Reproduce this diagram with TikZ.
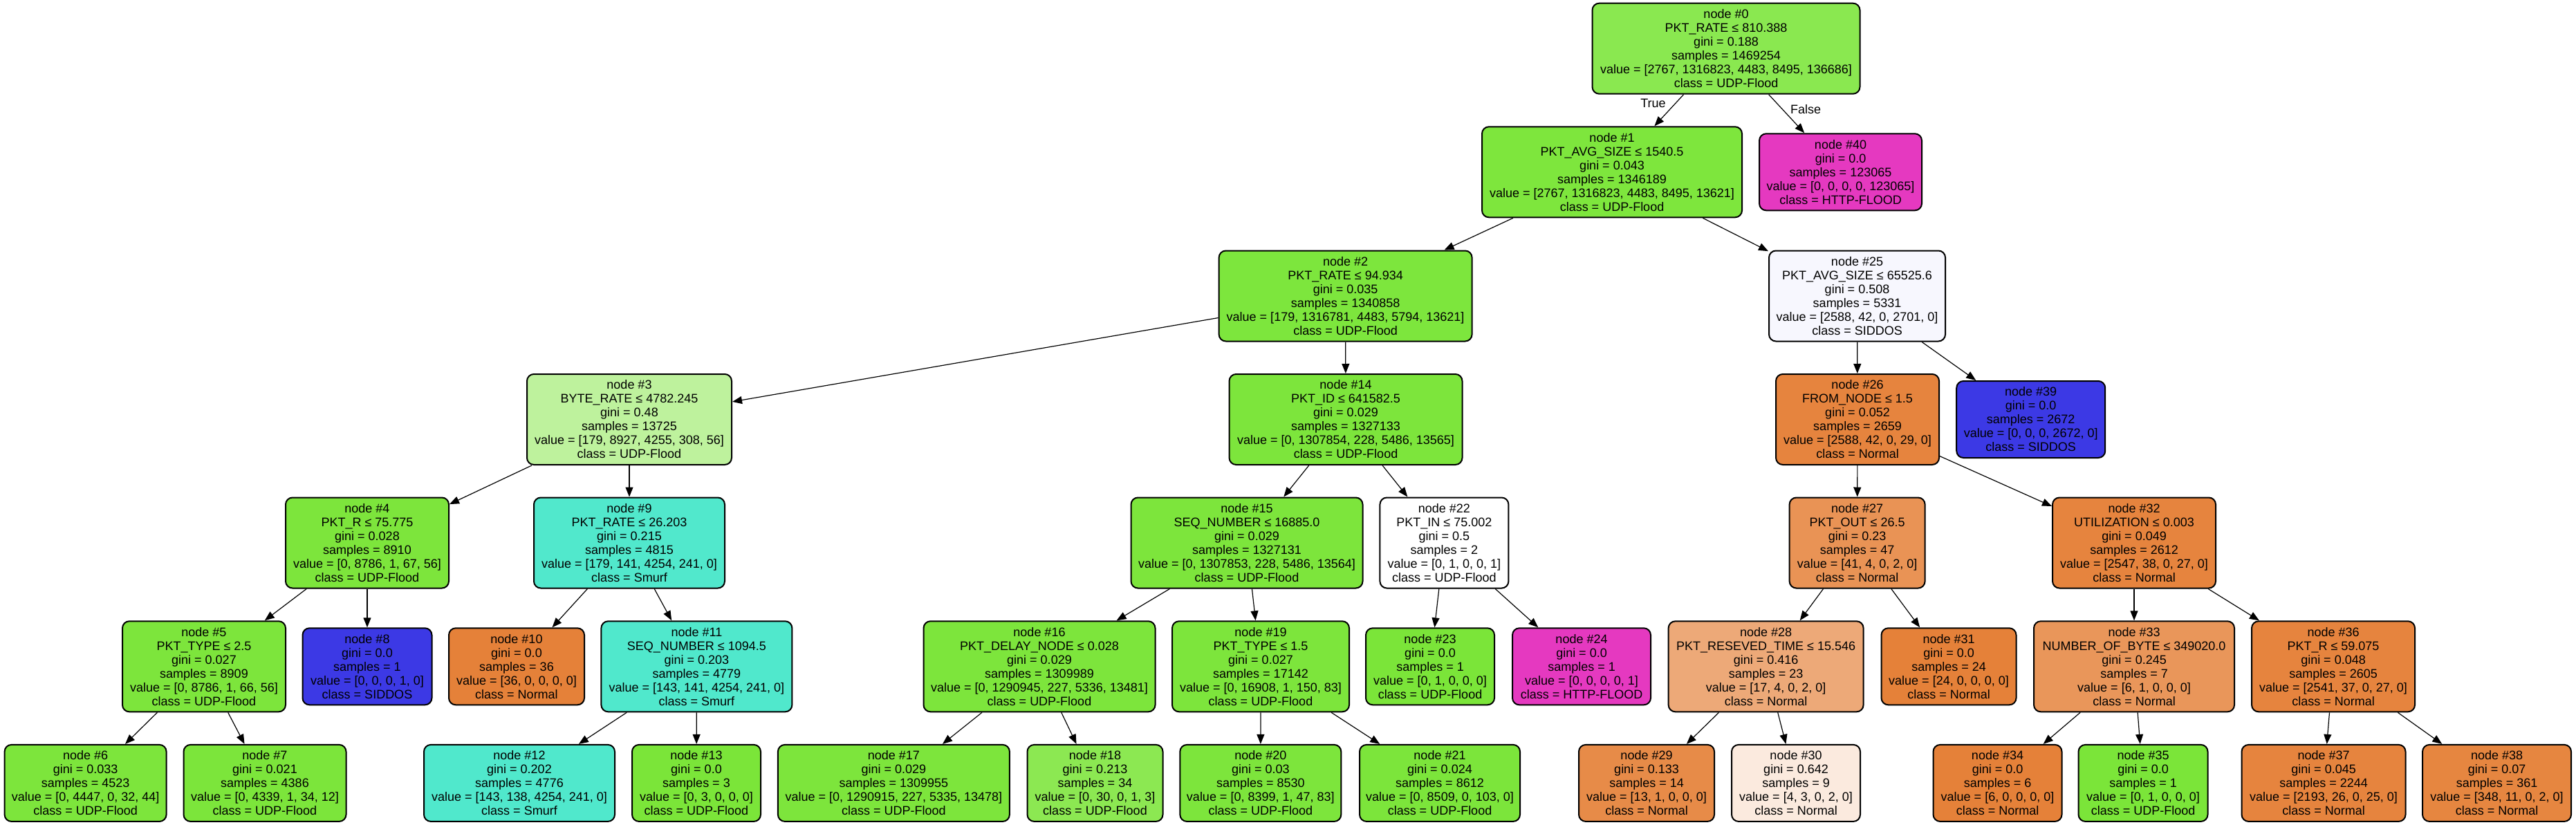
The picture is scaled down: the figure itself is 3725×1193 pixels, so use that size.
\documentclass[tikz,border=0pt]{standalone}
\usepackage{fontspec}
\setmainfont{Liberation Sans}
\usetikzlibrary{arrows.meta}
\definecolor{cA}{HTML}{8AE850}
\definecolor{cB}{HTML}{7EE63D}
\definecolor{cC}{HTML}{7DE63D}
\definecolor{cD}{HTML}{BEF29D}
\definecolor{gU}{HTML}{7DE53C}
\definecolor{gV}{HTML}{7CE53B}
\definecolor{gP}{HTML}{7BE539}
\definecolor{gL}{HTML}{8CE852}
\definecolor{bS}{HTML}{3C39E5}
\definecolor{sA}{HTML}{51E8CC}
\definecolor{sB}{HTML}{50E8CC}
\definecolor{oP}{HTML}{E58139}
\definecolor{oA}{HTML}{E6843E}
\definecolor{oB}{HTML}{E99355}
\definecolor{oC}{HTML}{EDA978}
\definecolor{oD}{HTML}{E78B48}
\definecolor{oE}{HTML}{FBEADE}
\definecolor{oF}{HTML}{E9965A}
\definecolor{oG}{HTML}{E68640}
\definecolor{mH}{HTML}{E539C0}
\definecolor{wS}{HTML}{F7F7FE}
\tikzset{
  tn/.style={draw=black, line width=1pt, rounded corners=5pt, align=center,
    font=\fontsize{9}{10}\selectfont, inner sep=0pt, minimum height=65.5pt},
  lf/.style={tn, minimum height=55.5pt},
  edge/.style={-{Triangle[length=7pt,width=5.5pt]}, line width=0.6pt, draw=black},
  elab/.style={font=\fontsize{9}{10}\selectfont, inner sep=0pt},
}
\begin{document}
\begin{tikzpicture}[x=0.5pt,y=-0.5pt]
\useasboundingbox (0,0) rectangle (3725,1193);
% level 0
\node[tn, fill=cA, minimum width=193.5pt] (n0) at (2496,70.2) {node \#0\\PKT\_RATE ≤ 810.388\\gini = 0.188\\samples = 1469254\\value = [2767, 1316823, 4483, 8495, 136686]\\class = UDP-Flood};
% level 1
\node[tn, fill=cB, minimum width=188pt] (n1) at (2331,248.8) {node \#1\\PKT\_AVG\_SIZE ≤ 1540.5\\gini = 0.043\\samples = 1346189\\value = [2767, 1316823, 4483, 8495, 13621]\\class = UDP-Flood};
\node[lf, fill=mH, minimum width=117.5pt] (n40) at (2661.5,248.8) {node \#40\\gini = 0.0\\samples = 123065\\value = [0, 0, 0, 0, 123065]\\class = HTTP-FLOOD};
% level 2
\node[tn, fill=cC, minimum width=183pt] (n2) at (1945.6,428) {node \#2\\PKT\_RATE ≤ 94.934\\gini = 0.035\\samples = 1340858\\value = [179, 1316781, 4483, 5794, 13621]\\class = UDP-Flood};
\node[tn, fill=wS, minimum width=127.5pt] (n25) at (2685.5,428) {node \#25\\PKT\_AVG\_SIZE ≤ 65525.6\\gini = 0.508\\samples = 5331\\value = [2588, 42, 0, 2701, 0]\\class = SIDDOS};
% level 3
\node[tn, fill=cD, minimum width=148pt] (n3) at (910,606.5) {node \#3\\BYTE\_RATE ≤ 4782.245\\gini = 0.48\\samples = 13725\\value = [179, 8927, 4255, 308, 56]\\class = UDP-Flood};
\node[tn, fill=gU, minimum width=168.5pt] (n14) at (1946,606.5) {node \#14\\PKT\_ID ≤ 641582.5\\gini = 0.029\\samples = 1327133\\value = [0, 1307854, 228, 5486, 13565]\\class = UDP-Flood};
\node[tn, fill=oA, minimum width=118pt] (n26) at (2686,606.5) {node \#26\\FROM\_NODE ≤ 1.5\\gini = 0.052\\samples = 2659\\value = [2588, 42, 0, 29, 0]\\class = Normal};
\node[lf, fill=bS, minimum width=107.5pt] (n39) at (2936.7,606.5) {node \#39\\gini = 0.0\\samples = 2672\\value = [0, 0, 0, 2672, 0]\\class = SIDDOS};
% level 4
\node[tn, fill=gU, minimum width=118pt] (n4) at (531,785) {node \#4\\PKT\_R ≤ 75.775\\gini = 0.028\\samples = 8910\\value = [0, 8786, 1, 67, 56]\\class = UDP-Flood};
\node[tn, fill=sA, minimum width=138pt] (n9) at (910,785) {node \#9\\PKT\_RATE ≤ 26.203\\gini = 0.215\\samples = 4815\\value = [179, 141, 4254, 241, 0]\\class = Smurf};
\node[tn, fill=gU, minimum width=167.5pt] (n15) at (1803,785) {node \#15\\SEQ\_NUMBER ≤ 16885.0\\gini = 0.029\\samples = 1327131\\value = [0, 1307853, 228, 5486, 13564]\\class = UDP-Flood};
\node[tn, fill=white, minimum width=93pt] (n22) at (2088.4,785) {node \#22\\PKT\_IN ≤ 75.002\\gini = 0.5\\samples = 2\\value = [0, 1, 0, 0, 1]\\class = UDP-Flood};
\node[tn, fill=oB, minimum width=98pt] (n27) at (2685.6,785) {node \#27\\PKT\_OUT ≤ 26.5\\gini = 0.23\\samples = 47\\value = [41, 4, 0, 2, 0]\\class = Normal};
\node[tn, fill=oA, minimum width=118pt] (n32) at (3086,785) {node \#32\\UTILIZATION ≤ 0.003\\gini = 0.049\\samples = 2612\\value = [2547, 38, 0, 27, 0]\\class = Normal};
% level 5
\node[tn, fill=gU, minimum width=118pt] (n5) at (295,963.8) {node \#5\\PKT\_TYPE ≤ 2.5\\gini = 0.027\\samples = 8909\\value = [0, 8786, 1, 66, 56]\\class = UDP-Flood};
\node[lf, fill=bS, minimum width=93.5pt] (n8) at (531,963.8) {node \#8\\gini = 0.0\\samples = 1\\value = [0, 0, 0, 1, 0]\\class = SIDDOS};
\node[lf, fill=oP, minimum width=98pt] (n10) at (747,963.8) {node \#10\\gini = 0.0\\samples = 36\\value = [36, 0, 0, 0, 0]\\class = Normal};
\node[tn, fill=sB, minimum width=138pt] (n11) at (1007.4,963.8) {node \#11\\SEQ\_NUMBER ≤ 1094.5\\gini = 0.203\\samples = 4779\\value = [143, 141, 4254, 241, 0]\\class = Smurf};
\node[tn, fill=gU, minimum width=167.5pt] (n16) at (1503,963.8) {node \#16\\PKT\_DELAY\_NODE ≤ 0.028\\gini = 0.029\\samples = 1309989\\value = [0, 1290945, 227, 5336, 13481]\\class = UDP-Flood};
\node[tn, fill=gU, minimum width=128pt] (n19) at (1823,963.8) {node \#19\\PKT\_TYPE ≤ 1.5\\gini = 0.027\\samples = 17142\\value = [0, 16908, 1, 150, 83]\\class = UDP-Flood};
\node[lf, fill=gP, minimum width=93pt] (n23) at (2068,963.8) {node \#23\\gini = 0.0\\samples = 1\\value = [0, 1, 0, 0, 0]\\class = UDP-Flood};
\node[lf, fill=mH, minimum width=100pt] (n24) at (2287,963.8) {node \#24\\gini = 0.0\\samples = 1\\value = [0, 0, 0, 0, 1]\\class = HTTP-FLOOD};
\node[tn, fill=oC, minimum width=141pt] (n28) at (2553.6,963.8) {node \#28\\PKT\_RESEVED\_TIME ≤ 15.546\\gini = 0.416\\samples = 23\\value = [17, 4, 0, 2, 0]\\class = Normal};
\node[lf, fill=oP, minimum width=97.5pt] (n31) at (2818,963.8) {node \#31\\gini = 0.0\\samples = 24\\value = [24, 0, 0, 0, 0]\\class = Normal};
\node[tn, fill=oF, minimum width=145pt] (n33) at (3086,963.8) {node \#33\\NUMBER\_OF\_BYTE ≤ 349020.0\\gini = 0.245\\samples = 7\\value = [6, 1, 0, 0, 0]\\class = Normal};
\node[tn, fill=oA, minimum width=118pt] (n36) at (3374,963.8) {node \#36\\PKT\_R ≤ 59.075\\gini = 0.048\\samples = 2605\\value = [2541, 37, 0, 27, 0]\\class = Normal};
% level 6
\node[lf, fill=gU, minimum width=117pt] (n6) at (123.6,1132.4) {node \#6\\gini = 0.033\\samples = 4523\\value = [0, 4447, 0, 32, 44]\\class = UDP-Flood};
\node[lf, fill=gV, minimum width=117.5pt] (n7) at (383,1132.4) {node \#7\\gini = 0.021\\samples = 4386\\value = [0, 4339, 1, 34, 12]\\class = UDP-Flood};
\node[lf, fill=sB, minimum width=138pt] (n12) at (751,1132.4) {node \#12\\gini = 0.202\\samples = 4776\\value = [143, 138, 4254, 241, 0]\\class = Smurf};
\node[lf, fill=gP, minimum width=93pt] (n13) at (1007,1132.4) {node \#13\\gini = 0.0\\samples = 3\\value = [0, 3, 0, 0, 0]\\class = UDP-Flood};
\node[lf, fill=gU, minimum width=167.5pt] (n17) at (1292.4,1132.4) {node \#17\\gini = 0.029\\samples = 1309955\\value = [0, 1290915, 227, 5335, 13478]\\class = UDP-Flood};
\node[lf, fill=gL, minimum width=98pt] (n18) at (1583.5,1132.4) {node \#18\\gini = 0.213\\samples = 34\\value = [0, 30, 0, 1, 3]\\class = UDP-Flood};
\node[lf, fill=gU, minimum width=116.5pt] (n20) at (1822.8,1132.4) {node \#20\\gini = 0.03\\samples = 8530\\value = [0, 8399, 1, 47, 83]\\class = UDP-Flood};
\node[lf, fill=gV, minimum width=116pt] (n21) at (2082,1132.4) {node \#21\\gini = 0.024\\samples = 8612\\value = [0, 8509, 0, 103, 0]\\class = UDP-Flood};
\node[lf, fill=oD, minimum width=98pt] (n29) at (2381,1132.4) {node \#29\\gini = 0.133\\samples = 14\\value = [13, 1, 0, 0, 0]\\class = Normal};
\node[lf, fill=oE, minimum width=93pt] (n30) at (2597,1132.4) {node \#30\\gini = 0.642\\samples = 9\\value = [4, 3, 0, 2, 0]\\class = Normal};
\node[lf, fill=oP, minimum width=93pt] (n34) at (2888.5,1132.4) {node \#34\\gini = 0.0\\samples = 6\\value = [6, 0, 0, 0, 0]\\class = Normal};
\node[lf, fill=gP, minimum width=93.5pt] (n35) at (3099,1132.4) {node \#35\\gini = 0.0\\samples = 1\\value = [0, 1, 0, 0, 0]\\class = UDP-Flood};
\node[lf, fill=oA, minimum width=118.5pt] (n37) at (3360,1132.4) {node \#37\\gini = 0.045\\samples = 2244\\value = [2193, 26, 0, 25, 0]\\class = Normal};
\node[lf, fill=oG, minimum width=107.5pt] (n38) at (3610.5,1132.4) {node \#38\\gini = 0.07\\samples = 361\\value = [348, 11, 0, 2, 0]\\class = Normal};
% edge labels
\node[elab] (ltrue) at (2390.5,149) {True};
\node[elab] (lfalse) at (2611,158.5) {False};
% edges
\foreach \a/\b in {n0/n1,n0/n40,n1/n2,n1/n25,n2/n3,n2/n14,n3/n4,n3/n9,n4/n5,n4/n8,n5/n6,n5/n7,n9/n10,n9/n11,n11/n12,n11/n13,n14/n15,n14/n22,n15/n16,n15/n19,n16/n17,n16/n18,n19/n20,n19/n21,n22/n23,n22/n24,n25/n26,n25/n39,n26/n27,n26/n32,n27/n28,n27/n31,n28/n29,n28/n30,n32/n33,n32/n36,n33/n34,n33/n35,n36/n37,n36/n38}
  \draw[edge] (\a) -- (\b);
\end{tikzpicture}
\end{document}
